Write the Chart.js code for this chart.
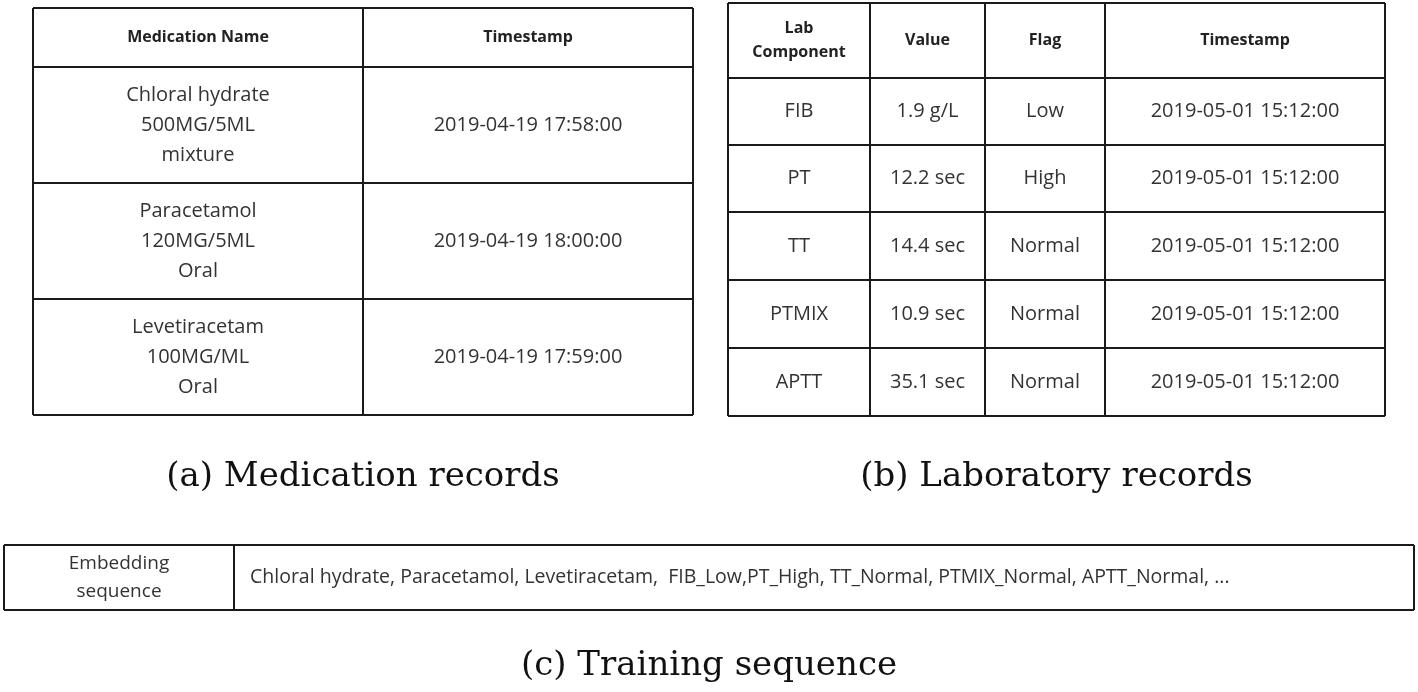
<!DOCTYPE html>
<html>
<head>
<meta charset="utf-8">
<script src="https://cdn.jsdelivr.net/npm/chart.js@4.4.0/dist/chart.umd.min.js"></script>
<style>
  html, body { margin: 0; background: #fff; }
  #wrap { width: 1418px; height: 692px; }
</style>
</head>
<body>
<div id="wrap"><canvas id="c"></canvas></div>
<script>
// ---- table contents ----
const medHeaders = ['Medication Name', 'Timestamp'];
const medNames = [
  ['Chloral hydrate', '500MG/5ML', 'mixture'],
  ['Paracetamol', '120MG/5ML', 'Oral'],
  ['Levetiracetam', '100MG/ML', 'Oral'],
];
const medTimes = ['2019-04-19 17:58:00', '2019-04-19 18:00:00', '2019-04-19 17:59:00'];

const labHeaders = [['Lab', 'Component'], ['Value'], ['Flag'], ['Timestamp']];
const labComponents = ['FIB', 'PT', 'TT', 'PTMIX', 'APTT'];
const labValues = ['1.9 g/L', '12.2 sec', '14.4 sec', '10.9 sec', '35.1 sec'];
const labFlags = ['Low', 'High', 'Normal', 'Normal', 'Normal'];
const labTimes = ['2019-05-01 15:12:00', '2019-05-01 15:12:00', '2019-05-01 15:12:00', '2019-05-01 15:12:00', '2019-05-01 15:12:00'];

const seqLabel = ['Embedding', 'sequence'];
const seqText = 'Chloral hydrate, Paracetamol, Levetiracetam,  FIB_Low,PT_High, TT_Normal, PTMIX_Normal, APTT_Normal, ...';

const captions = ['(a) Medication records', '(b) Laboratory records', '(c) Training sequence'];

// ---- grid geometry (in page units, mapped through the scales) ----
const medCols = [33, 363, 693];
const medRows = [8, 67, 183, 299, 415];
const labCols = [728, 870, 985, 1105, 1385];
const labRows = [3, 78, 145, 212, 280, 348, 416];
const seqCols = [4, 234, 1414];
const seqRows = [545, 610];

const INK = '#333';
const SANS = '"Open Sans", Lato, sans-serif';
const SERIF = '"DejaVu Serif", serif';

const tablePlugin = {
  id: 'tables',
  afterDraw(chart) {
    const ctx = chart.ctx;
    const xs = chart.scales.x, ys = chart.scales.y;
    const X = (v) => xs.getPixelForValue(v);
    const Y = (v) => ys.getPixelForValue(v);

    function grid(cols, rows) {
      ctx.save();
      ctx.strokeStyle = '#1a1a1a';
      ctx.lineWidth = 2;
      rows.forEach((r) => { ctx.beginPath(); ctx.moveTo(X(cols[0]), Y(r)); ctx.lineTo(X(cols[cols.length - 1]), Y(r)); ctx.stroke(); });
      cols.forEach((c) => { ctx.beginPath(); ctx.moveTo(X(c), Y(rows[0])); ctx.lineTo(X(c), Y(rows[rows.length - 1])); ctx.stroke(); });
      ctx.restore();
    }

    // lines of text centred in a cell
    function cell(lines, x0, x1, y0, y1, font, lh, color) {
      ctx.save();
      ctx.fillStyle = color || INK;
      ctx.font = font;
      ctx.textAlign = 'center';
      ctx.textBaseline = 'middle';
      const cx = (X(x0) + X(x1)) / 2;
      const cy = (Y(y0) + Y(y1)) / 2;
      lines.forEach((t, i) => ctx.fillText(t, cx, cy + (i - (lines.length - 1) / 2) * lh));
      ctx.restore();
    }

    // (a) medication
    grid(medCols, medRows);
    medHeaders.forEach((h, i) => cell([h], medCols[i], medCols[i + 1], medRows[0], medRows[1], 'bold 16px ' + SANS, 22, '#222'));
    medNames.forEach((n, i) => {
      cell(n, medCols[0], medCols[1], medRows[i + 1], medRows[i + 2], '20px ' + SANS, 30);
      cell([medTimes[i]], medCols[1], medCols[2], medRows[i + 1], medRows[i + 2], '20px ' + SANS, 30);
    });

    // (b) laboratory
    grid(labCols, labRows);
    labHeaders.forEach((h, i) => cell(h, labCols[i], labCols[i + 1], labRows[0], labRows[1], 'bold 16px ' + SANS, 24, '#222'));
    labComponents.forEach((c, i) => {
      const vals = [c, labValues[i], labFlags[i], labTimes[i]];
      vals.forEach((v, j) => cell([v], labCols[j], labCols[j + 1], labRows[i + 1], labRows[i + 2], '20px ' + SANS, 30));
    });

    // (c) sequence
    grid(seqCols, seqRows);
    cell(seqLabel, seqCols[0], seqCols[1], seqRows[0], seqRows[1], '19px ' + SANS, 28);
    ctx.save();
    ctx.fillStyle = INK;
    ctx.font = '19.5px ' + SANS;
    ctx.textBaseline = 'middle';
    ctx.fillText(seqText, X(250), (Y(seqRows[0]) + Y(seqRows[1])) / 2);
    ctx.restore();

    // captions
    cell([captions[0]], 33, 693, 460, 494, '34px ' + SERIF, 30, '#111');
    cell([captions[1]], 728, 1385, 460, 494, '34px ' + SERIF, 30, '#111');
    cell([captions[2]], 300, 1118, 649, 683, '34px ' + SERIF, 30, '#111');
  },
};

new Chart(document.getElementById('c'), {
  type: 'scatter',
  data: { datasets: [{ data: [] }] },
  options: {
    responsive: true,
    maintainAspectRatio: false,
    animation: false,
    layout: { padding: 0 },
    plugins: { legend: { display: false }, tooltip: { enabled: false } },
    scales: {
      x: { type: 'linear', min: 0, max: 1418, display: false },
      y: { type: 'linear', min: 0, max: 692, reverse: true, display: false },
    },
  },
  plugins: [tablePlugin],
});
</script>
</body>
</html>
